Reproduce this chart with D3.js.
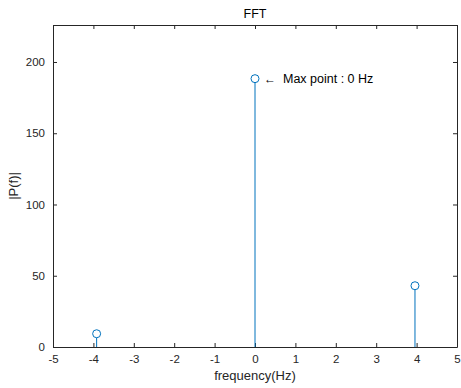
<!DOCTYPE html>
<meta charset="utf-8">
<body style="margin:0;background:#fff">
<script src="https://d3js.org/d3.v7.min.js"></script>
<div id="chart"></div>
<script>
// stem data
var freqs = [-3.92, 0, 3.96]
var mags = [9.3, 188.3, 43]
var xTicks = [-5, -4, -3, -2, -1, 0, 1, 2, 3, 4, 5]
var yTicks = [0, 50, 100, 150, 200]

var W = 461, H = 388
var margin = {top: 25, right: 4, bottom: 41, left: 53}
var width = W - margin.left - margin.right,
    height = H - margin.top - margin.bottom

var svg = d3.select("#chart").append("svg")
    .attr("width", W).attr("height", H)
    .style("font-family", "'Liberation Sans', Arial, sans-serif")
  .append("g")
    .attr("transform", "translate(" + margin.left + "," + margin.top + ")")

var x = d3.scaleLinear().domain([-5, 5]).range([0, width])
var y = d3.scaleLinear().domain([0, d3.max(mags) * 1.2]).range([height, 0])

var axisColor = "#262626"
var plain = function(d) { return String(d) }  // hyphen minus like matlab

// axes, ticks pointing inward, box on
function styleAxis(g) {
  g.select(".domain").attr("stroke", axisColor)
  g.selectAll(".tick line").attr("stroke", axisColor)
  g.selectAll(".tick text").attr("fill", axisColor).style("font-size", "11.5px")
}
svg.append("g").attr("transform", "translate(0," + height + ")")
  .call(d3.axisBottom(x).tickValues(xTicks).tickFormat(plain).tickSize(-4).tickPadding(8).tickSizeOuter(0))
  .call(styleAxis)
svg.append("g")
  .call(d3.axisLeft(y).tickValues(yTicks).tickFormat(plain).tickSize(-4).tickPadding(8).tickSizeOuter(0))
  .call(styleAxis)
svg.append("g")
  .call(d3.axisTop(x).tickValues(xTicks).tickSize(-4).tickFormat("").tickSizeOuter(0))
  .call(styleAxis)
svg.append("g").attr("transform", "translate(" + width + ",0)")
  .call(d3.axisRight(y).tickValues(yTicks).tickSize(-4).tickFormat("").tickSizeOuter(0))
  .call(styleAxis)

// stems
var data = freqs.map(function(f, i) { return {f: f, m: mags[i]} })
svg.selectAll(".stem").data(data).join("line")
  .attr("x1", function(d) { return x(d.f) })
  .attr("x2", function(d) { return x(d.f) })
  .attr("y1", y(0))
  .attr("y2", function(d) { return y(d.m) + 4 })
  .attr("stroke", "#0072BD").attr("stroke-width", 1)
svg.selectAll(".mark").data(data).join("circle")
  .attr("cx", function(d) { return x(d.f) })
  .attr("cy", function(d) { return y(d.m) })
  .attr("r", 4)
  .attr("fill", "none").attr("stroke", "#0072BD").attr("stroke-width", 1)

// annotation on the max point
var maxD = data[d3.maxIndex(data, function(d) { return d.m })]
svg.append("text")
  .attr("x", x(maxD.f) + 9).attr("y", y(maxD.m) + 4)
  .style("font-size", "12px").attr("fill", "#000")
  .text("\u2190")
svg.append("text")
  .attr("x", x(maxD.f) + 28).attr("y", y(maxD.m) + 4.5)
  .style("font-size", "12.5px").attr("fill", "#000")
  .text("Max point : " + maxD.f + " Hz")

// title and labels
svg.append("text").attr("x", width / 2).attr("y", -7)
  .attr("text-anchor", "middle").style("font-size", "12.5px").attr("fill", "#000")
  .text("FFT")
svg.append("text").attr("x", width / 2).attr("y", height + 33)
  .attr("text-anchor", "middle").style("font-size", "13px").attr("fill", axisColor)
  .text("frequency(Hz)")
svg.append("text")
  .attr("transform", "translate(-35," + (height / 2) + ") rotate(-90)")
  .attr("text-anchor", "middle").style("font-size", "13px").attr("fill", axisColor)
  .text("|P(f)|")
</script>
</body>
